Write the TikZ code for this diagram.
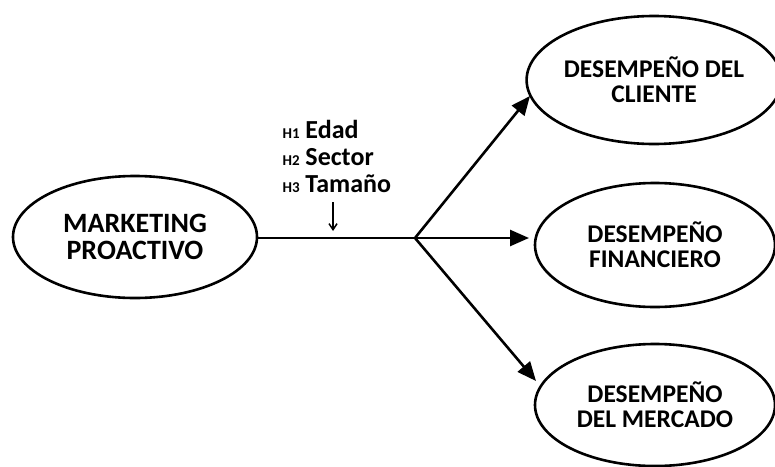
\documentclass[tikz,border=0pt]{standalone}
\usepackage{fontspec}
\setmainfont{Carlito}
\usetikzlibrary{shapes.geometric,arrows.meta}
\begin{document}
\begin{tikzpicture}[x=1pt,y=-1pt,
  construct/.style={ellipse,draw,line width=2.6pt,inner sep=0pt,
    font=\bfseries\fontsize{25.5}{25}\selectfont,align=center},
  path/.style={line width=2.6pt,-{Triangle[length=19pt,width=16pt]}},
  hyp/.style={anchor=west,font=\bfseries\fontsize{26}{28}\selectfont}]
\useasboundingbox (0,0) rectangle (775,466);
% constructs
\node[construct,minimum width=244pt,minimum height=122pt,
  font=\bfseries\fontsize{28}{27}\selectfont] (mp) at (135,237) {MARKETING\\PROACTIVO};
\node[construct,minimum width=243pt,minimum height=128pt] (dc) at (654,80) {DESEMPEÑO DEL\\CLIENTE};
\node[construct,minimum width=240pt,minimum height=124pt] (df) at (655,245) {DESEMPEÑO\\FINANCIERO};
\node[construct,minimum width=240pt,minimum height=122pt] (dm) at (655,405) {DESEMPEÑO\\DEL MERCADO};
% branching point and arrow targets
\coordinate (j) at (415,238);
\coordinate (tc) at (530,96);
\coordinate (tf) at (529,238);
\coordinate (tm) at (536,381);
\draw[line width=2.6pt] (mp.east |- j) -- (j);
\draw[path] (j) -- (tc);
\draw[path] (j) -- (tf);
\draw[path] (j) -- (tm);
% moderators
\node[hyp] (h1) at (279,129) {{\fontsize{15}{15}\selectfont H1} Edad};
\node[hyp] (h2) at (279,157) {{\fontsize{15}{15}\selectfont H2} Sector};
\node[hyp] (h3) at (279,184) {{\fontsize{15}{15}\selectfont H3} Tamaño};
\coordinate (mt) at (333,202);
\coordinate (mb) at (333,231);
\draw[line width=1.5pt,-{Straight Barb[length=6pt,width=8pt]}] (mt) -- (mb);
\end{tikzpicture}
\end{document}
